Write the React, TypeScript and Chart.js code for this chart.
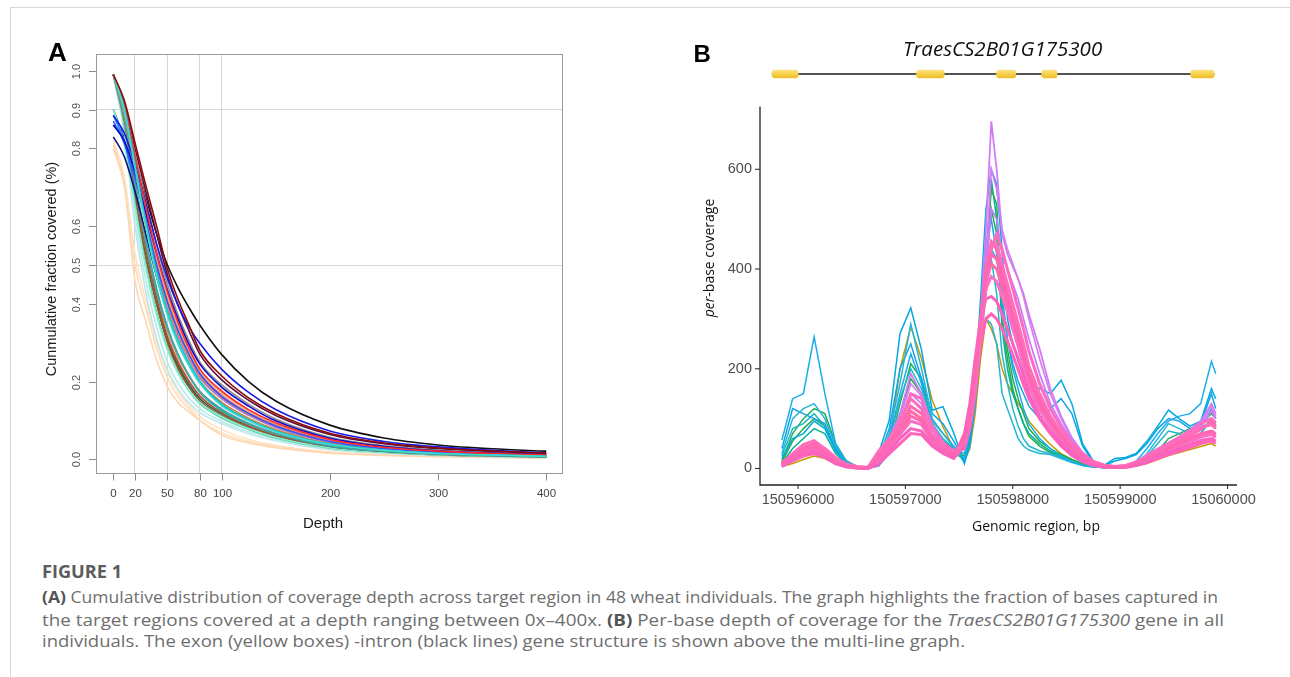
import React, { useEffect, useLayoutEffect, useRef } from 'react';
import { Chart, registerables } from 'chart.js';

Chart.register(...registerables);

// ---------------- Panel A: cumulative coverage curves ----------------
const depthA = [0, 10, 20, 30, 40, 50, 60, 70, 80, 100, 125, 150, 200, 250, 300, 350, 400];
const xTicksA = [0, 20, 50, 80, 100, 200, 300, 400];
const xGridA = [20, 50, 80, 100];
const yTicksA = [0, 0.2, 0.4, 0.5, 0.6, 0.8, 0.9, 1.0];
const yTickLabelsA = ['0.0', '0.2', '0.4', '0.5', '0.6', '0.8', '0.9', '1.0'];
const yGridA = [0.5, 0.9];

const curveDarkRed = [0.99, 0.925, 0.815, 0.705, 0.6, 0.49, 0.41, 0.345, 0.28, 0.215, 0.158, 0.118, 0.067, 0.042, 0.029, 0.021, 0.016];
const curveTurquoise = [0.99, 0.9, 0.75, 0.6, 0.47, 0.37, 0.295, 0.24, 0.195, 0.138, 0.099, 0.071, 0.038, 0.023, 0.015, 0.011, 0.008];
const curveDarkTurquoise = [0.99, 0.905, 0.76, 0.61, 0.48, 0.38, 0.305, 0.248, 0.2, 0.142, 0.101, 0.073, 0.039, 0.024, 0.015, 0.011, 0.008];
const curveRed = [0.99, 0.91, 0.78, 0.65, 0.53, 0.43, 0.35, 0.285, 0.232, 0.176, 0.128, 0.094, 0.051, 0.031, 0.021, 0.015, 0.011];
const curveBlue = [0.885, 0.84, 0.76, 0.66, 0.555, 0.465, 0.395, 0.34, 0.298, 0.232, 0.172, 0.128, 0.073, 0.046, 0.032, 0.023, 0.017];
const curveMediumBlue = [0.86, 0.82, 0.74, 0.635, 0.53, 0.435, 0.36, 0.295, 0.245, 0.186, 0.137, 0.099, 0.054, 0.033, 0.022, 0.016, 0.012];
const curveRoyalBlue = [0.87, 0.815, 0.725, 0.615, 0.5, 0.405, 0.33, 0.27, 0.22, 0.162, 0.118, 0.086, 0.046, 0.028, 0.018, 0.013, 0.009];
const curveSalmon = [0.99, 0.905, 0.77, 0.63, 0.505, 0.405, 0.33, 0.27, 0.22, 0.166, 0.12, 0.088, 0.047, 0.029, 0.019, 0.013, 0.009];
const curveCoral = [0.99, 0.9, 0.76, 0.62, 0.495, 0.395, 0.32, 0.262, 0.215, 0.16, 0.116, 0.085, 0.045, 0.027, 0.018, 0.012, 0.009];
const curveTan = [0.99, 0.905, 0.77, 0.635, 0.515, 0.415, 0.34, 0.28, 0.228, 0.172, 0.125, 0.091, 0.049, 0.03, 0.02, 0.014, 0.01];
const curveGrey = [0.99, 0.91, 0.785, 0.665, 0.55, 0.45, 0.37, 0.305, 0.25, 0.192, 0.142, 0.104, 0.057, 0.035, 0.024, 0.017, 0.012];
const curveMaroon = [0.99, 0.915, 0.8, 0.69, 0.58, 0.475, 0.395, 0.33, 0.27, 0.205, 0.152, 0.113, 0.064, 0.04, 0.027, 0.02, 0.015];
const curvePurple = [0.99, 0.9, 0.755, 0.61, 0.485, 0.39, 0.315, 0.258, 0.21, 0.156, 0.113, 0.082, 0.044, 0.027, 0.018, 0.012, 0.009];
const curvePeru = [0.99, 0.895, 0.745, 0.6, 0.475, 0.375, 0.3, 0.245, 0.2, 0.147, 0.106, 0.077, 0.041, 0.025, 0.016, 0.011, 0.008];
const curveNavy = [0.83, 0.78, 0.69, 0.58, 0.47, 0.375, 0.3, 0.245, 0.2, 0.142, 0.101, 0.073, 0.039, 0.024, 0.016, 0.011, 0.008];
const curveCadet = [0.99, 0.88, 0.71, 0.555, 0.43, 0.335, 0.265, 0.215, 0.175, 0.13, 0.093, 0.067, 0.036, 0.022, 0.014, 0.01, 0.007];
const curveSeaGreen = [0.99, 0.885, 0.72, 0.565, 0.44, 0.34, 0.268, 0.215, 0.172, 0.125, 0.09, 0.065, 0.034, 0.021, 0.014, 0.01, 0.007];
const curveSienna = [0.99, 0.875, 0.7, 0.54, 0.415, 0.315, 0.248, 0.2, 0.163, 0.12, 0.086, 0.062, 0.033, 0.02, 0.013, 0.009, 0.007];
const curveDodger = [0.885, 0.82, 0.7, 0.56, 0.435, 0.34, 0.268, 0.214, 0.174, 0.128, 0.091, 0.066, 0.034, 0.021, 0.014, 0.01, 0.007];
const curveAqua = [0.9, 0.81, 0.65, 0.49, 0.37, 0.28, 0.22, 0.178, 0.146, 0.11, 0.079, 0.057, 0.03, 0.018, 0.012, 0.008, 0.006];
const curveMedAqua = [0.99, 0.86, 0.66, 0.5, 0.38, 0.285, 0.222, 0.176, 0.143, 0.106, 0.077, 0.055, 0.029, 0.018, 0.012, 0.008, 0.006];
const curveBrown = [0.99, 0.87, 0.68, 0.52, 0.4, 0.3, 0.232, 0.185, 0.15, 0.112, 0.081, 0.058, 0.03, 0.019, 0.012, 0.009, 0.006];
const curveSandy = [0.99, 0.88, 0.71, 0.555, 0.43, 0.325, 0.255, 0.203, 0.163, 0.12, 0.086, 0.062, 0.032, 0.02, 0.013, 0.009, 0.007];
const curveSlate = [0.9, 0.82, 0.67, 0.52, 0.4, 0.305, 0.24, 0.192, 0.156, 0.117, 0.084, 0.06, 0.031, 0.019, 0.012, 0.009, 0.006];
const curvePaleTurq = [0.99, 0.85, 0.63, 0.46, 0.34, 0.25, 0.195, 0.157, 0.13, 0.098, 0.071, 0.052, 0.027, 0.017, 0.011, 0.008, 0.006];
const curvePowder = [0.99, 0.84, 0.6, 0.43, 0.31, 0.23, 0.18, 0.145, 0.12, 0.092, 0.066, 0.048, 0.025, 0.016, 0.01, 0.007, 0.005];
const curveBlack = [0.86, 0.83, 0.77, 0.675, 0.58, 0.5, 0.44, 0.39, 0.345, 0.27, 0.2, 0.15, 0.088, 0.055, 0.037, 0.027, 0.021];
const curvePeach = [0.81, 0.71, 0.46, 0.355, 0.255, 0.187, 0.145, 0.122, 0.1, 0.0625, 0.042, 0.03, 0.016, 0.01, 0.007, 0.005, 0.004];
const curveBisque = [0.82, 0.73, 0.53, 0.41, 0.3, 0.225, 0.172, 0.138, 0.11, 0.077, 0.051, 0.036, 0.019, 0.012, 0.008, 0.006, 0.004];
const curveLightPeach = [0.8, 0.705, 0.5, 0.39, 0.285, 0.21, 0.16, 0.13, 0.1, 0.068, 0.046, 0.033, 0.017, 0.011, 0.007, 0.005, 0.004];

const curvesA = [
  { name: 'S01', values: curveDarkRed, color: '#8b0a0a' },
  { name: 'S02', values: curveTurquoise, color: '#3fdccf' },
  { name: 'S03', values: curveDarkTurquoise, color: '#00cdd0' },
  { name: 'S04', values: curveRed, color: '#ff2a2a' },
  { name: 'S05', values: curveBlue, color: '#1a1ae6' },
  { name: 'S06', values: curveMediumBlue, color: '#0a0ad0' },
  { name: 'S07', values: curveRoyalBlue, color: '#2f55ff' },
  { name: 'S08', values: curveSalmon, color: '#f98070' },
  { name: 'S09', values: curveCoral, color: '#ff7a55' },
  { name: 'S10', values: curveTan, color: '#e3ad78' },
  { name: 'S11', values: curveGrey, color: '#8e8e8e' },
  { name: 'S12', values: curveMaroon, color: '#5c1238' },
  { name: 'S13', values: curvePurple, color: '#9a78dc' },
  { name: 'S14', values: curvePeru, color: '#cd853f' },
  { name: 'S15', values: curveNavy, color: '#101078' },
  { name: 'S16', values: curveCadet, color: '#5f9ea0' },
  { name: 'S17', values: curveSeaGreen, color: '#20b2aa' },
  { name: 'S18', values: curveSienna, color: '#a0522d' },
  { name: 'S19', values: curveDodger, color: '#1e8cff' },
  { name: 'S20', values: curveAqua, color: '#86f0d2' },
  { name: 'S21', values: curveMedAqua, color: '#66cdaa' },
  { name: 'S22', values: curveBrown, color: '#8b5a2b' },
  { name: 'S23', values: curveSandy, color: '#f4a460' },
  { name: 'S24', values: curveSlate, color: '#2f4f4f' },
  { name: 'S25', values: curvePaleTurq, color: '#b4ece8' },
  { name: 'S26', values: curvePowder, color: '#bfe6ea' },
  { name: 'S27', values: curveBlack, color: '#111111' },
  { name: 'S28', values: curvePeach, color: '#ffd6ae' },
  { name: 'S29', values: curveBisque, color: '#ffe2c2' },
  { name: 'S30', values: curveLightPeach, color: '#fcdcbc' },
];

// ---------------- Panel B: per-base coverage ----------------
const positionsB = [
  150595850, 150595950, 150596050, 150596150, 150596250, 150596350, 150596450, 150596550, 150596650, 150596750,
  150596850, 150596950, 150597050, 150597150, 150597250, 150597350, 150597450, 150597550, 150597600, 150597650,
  150597700, 150597750, 150597800, 150597850, 150597900, 150597950, 150598000, 150598050, 150598100, 150598150,
  150598250, 150598350, 150598450, 150598550, 150598650, 150598750, 150598850, 150598950, 150599050, 150599150,
  150599250, 150599350, 150599450, 150599550, 150599650, 150599750, 150599850, 150599890,
];
const xTicksB = [150596000, 150597000, 150598000, 150599000, 150600000];
const xTickLabelsB = ['150596000', '150597000', '150598000', '150599000', '15060000'];
const yTicksB = [0, 200, 400, 600];

const pink1 = [10, 25, 38, 44, 32, 15, 6, 2, 1, 20, 48, 75, 105, 95, 60, 40, 28, 60, 110, 190, 300, 390, 430, 420, 380, 340, 300, 265, 225, 185, 130, 95, 65, 40, 22, 10, 5, 3, 4, 10, 20, 30, 40, 50, 60, 70, 75, 70];
const pink2 = [6, 30, 48, 56, 40, 20, 8, 3, 2, 35, 60, 95, 140, 120, 70, 45, 30, 50, 95, 170, 280, 370, 445, 450, 410, 370, 330, 290, 250, 205, 150, 105, 72, 45, 25, 12, 6, 3, 5, 12, 24, 36, 48, 58, 70, 82, 88, 80];
const pink3 = [4, 18, 30, 34, 24, 10, 4, 1, 0, 8, 35, 60, 80, 75, 48, 32, 22, 70, 130, 220, 300, 340, 345, 335, 310, 280, 250, 220, 185, 150, 105, 75, 50, 30, 16, 7, 3, 2, 3, 8, 15, 24, 32, 40, 48, 56, 60, 55];
const pink4 = [12, 28, 42, 50, 36, 18, 7, 3, 2, 30, 55, 85, 125, 110, 66, 44, 32, 55, 100, 180, 290, 400, 455, 440, 395, 350, 310, 275, 235, 195, 140, 100, 70, 44, 24, 11, 5, 4, 5, 11, 22, 33, 45, 55, 66, 78, 95, 85];
const pink5 = [8, 22, 34, 40, 30, 13, 5, 2, 1, 15, 42, 68, 95, 88, 55, 36, 25, 65, 120, 200, 300, 360, 385, 375, 345, 315, 280, 245, 205, 165, 118, 85, 56, 34, 19, 9, 4, 3, 3, 9, 18, 27, 36, 45, 54, 63, 68, 62];
const pink6 = [5, 15, 25, 30, 22, 10, 3, 1, 0, 10, 30, 50, 70, 68, 45, 30, 20, 45, 90, 160, 250, 300, 310, 300, 280, 255, 228, 198, 168, 140, 100, 70, 45, 26, 14, 6, 3, 2, 2, 6, 12, 20, 28, 35, 42, 50, 55, 50];
const pink7 = [9, 26, 40, 50, 40, 22, 9, 4, 2, 25, 52, 88, 150, 140, 85, 52, 35, 40, 80, 150, 260, 360, 440, 470, 440, 400, 360, 320, 280, 235, 170, 120, 82, 52, 30, 14, 7, 4, 6, 13, 26, 38, 50, 62, 75, 90, 100, 92];
const pink8 = [7, 20, 33, 38, 28, 12, 5, 2, 1, 12, 45, 72, 115, 100, 62, 42, 30, 58, 105, 185, 290, 375, 410, 400, 365, 330, 295, 258, 218, 178, 125, 90, 60, 37, 20, 9, 4, 3, 4, 9, 19, 28, 38, 47, 57, 66, 72, 66];
const violet1 = [5, 20, 35, 48, 38, 20, 8, 3, 2, 30, 60, 110, 190, 150, 80, 50, 35, 45, 90, 170, 300, 480, 696, 600, 470, 430, 405, 380, 350, 310, 240, 160, 105, 62, 32, 14, 6, 4, 6, 14, 28, 40, 52, 64, 78, 95, 130, 110];
const violet2 = [3, 15, 28, 36, 28, 14, 6, 2, 1, 25, 50, 90, 150, 130, 70, 45, 30, 40, 85, 160, 280, 400, 520, 500, 430, 400, 370, 340, 300, 260, 190, 130, 90, 55, 28, 12, 5, 3, 5, 12, 25, 36, 48, 60, 72, 85, 115, 100];
const violet3 = [4, 18, 30, 40, 32, 16, 7, 3, 1, 28, 55, 100, 170, 145, 80, 50, 34, 38, 80, 150, 270, 420, 600, 560, 480, 440, 410, 380, 345, 300, 220, 150, 100, 60, 30, 13, 6, 3, 5, 13, 26, 38, 50, 62, 75, 90, 125, 105];
const cyan1 = [57, 140, 150, 264, 150, 50, 12, 3, 2, 5, 60, 150, 230, 170, 90, 60, 40, 30, 80, 170, 290, 390, 440, 420, 350, 260, 200, 160, 120, 90, 60, 40, 25, 14, 6, 3, 2, 2, 4, 15, 40, 70, 95, 105, 110, 130, 215, 190];
const cyan2 = [20, 60, 70, 95, 80, 35, 10, 3, 2, 30, 97, 271, 322, 238, 117, 124, 71, 10, 60, 180, 340, 520, 600, 570, 440, 300, 250, 215, 195, 175, 160, 150, 177, 130, 50, 15, 6, 20, 22, 30, 55, 85, 117, 100, 85, 95, 160, 140];
const cyan3 = [30, 100, 120, 130, 100, 45, 15, 4, 2, 15, 70, 170, 290, 200, 100, 70, 45, 20, 70, 150, 260, 300, 290, 250, 151, 120, 90, 60, 45, 37, 30, 28, 20, 12, 6, 3, 2, 2, 3, 10, 30, 60, 90, 80, 70, 80, 120, 100];
const cyan4 = [40, 120, 110, 100, 90, 40, 12, 4, 2, 20, 80, 200, 250, 180, 110, 90, 55, 15, 50, 140, 300, 450, 500, 430, 330, 260, 210, 175, 150, 125, 100, 120, 140, 110, 45, 12, 5, 15, 20, 28, 50, 80, 100, 95, 80, 90, 150, 120];
const cyan5 = [25, 80, 90, 110, 85, 38, 12, 3, 2, 10, 55, 140, 200, 160, 95, 70, 42, 12, 45, 130, 240, 360, 420, 350, 230, 170, 120, 85, 60, 45, 35, 30, 22, 14, 7, 3, 2, 2, 3, 10, 25, 50, 75, 70, 60, 70, 100, 90];
const green1 = [15, 70, 100, 120, 110, 50, 15, 4, 2, 10, 40, 130, 210, 180, 90, 55, 40, 25, 60, 150, 280, 420, 560, 530, 300, 240, 180, 140, 110, 80, 55, 40, 28, 18, 10, 5, 3, 2, 3, 8, 18, 35, 60, 70, 80, 90, 110, 100];
const green2 = [10, 40, 60, 80, 70, 30, 10, 3, 1, 5, 30, 90, 140, 120, 70, 45, 30, 20, 50, 130, 250, 380, 580, 500, 280, 200, 150, 120, 90, 70, 50, 35, 25, 15, 8, 4, 2, 2, 2, 6, 14, 26, 40, 50, 60, 70, 100, 80];
const green3 = [12, 55, 80, 100, 85, 40, 12, 4, 2, 8, 35, 110, 180, 150, 80, 50, 35, 18, 50, 140, 260, 400, 520, 470, 300, 220, 160, 120, 90, 65, 45, 32, 22, 14, 8, 4, 2, 2, 2, 6, 15, 30, 50, 60, 70, 80, 95, 85];
const olive1 = [4, 10, 18, 25, 20, 10, 4, 2, 1, 8, 50, 200, 284, 220, 137, 84, 40, 15, 40, 110, 220, 300, 280, 250, 200, 170, 150, 130, 115, 95, 70, 48, 30, 18, 8, 4, 2, 2, 2, 5, 10, 18, 26, 32, 38, 44, 50, 45];

const seriesB = [
  { name: 'ind01', values: pink1, color: '#ff66b2', width: 3 },
  { name: 'ind02', values: pink2, color: '#ff6ebc', width: 3 },
  { name: 'ind03', values: pink3, color: '#f962c0', width: 3 },
  { name: 'ind04', values: pink4, color: '#ff69ae', width: 3 },
  { name: 'ind05', values: pink5, color: '#fb70c4', width: 3 },
  { name: 'ind06', values: pink6, color: '#ff64b8', width: 3 },
  { name: 'ind07', values: pink7, color: '#fc6cc0', width: 3 },
  { name: 'ind08', values: pink8, color: '#ff6aa8', width: 3 },
  { name: 'ind09', values: violet1, color: '#d37af5', width: 1.8 },
  { name: 'ind10', values: violet2, color: '#c77cff', width: 1.8 },
  { name: 'ind11', values: violet3, color: '#d880f0', width: 1.8 },
  { name: 'ind12', values: cyan1, color: '#19aee8', width: 1.5 },
  { name: 'ind13', values: cyan2, color: '#00a9e0', width: 1.5 },
  { name: 'ind14', values: cyan3, color: '#25b5d8', width: 1.5 },
  { name: 'ind15', values: cyan4, color: '#10a4e6', width: 1.5 },
  { name: 'ind16', values: cyan5, color: '#1fb8c8', width: 1.5 },
  { name: 'ind17', values: green1, color: '#1daf52', width: 1.5 },
  { name: 'ind18', values: green2, color: '#00b39a', width: 1.5 },
  { name: 'ind19', values: green3, color: '#2aa84a', width: 1.5 },
  { name: 'ind20', values: olive1, color: '#c49a00', width: 1.5 },
];

const geneName = 'TraesCS2B01G175300';
const intronSpan = [150595756, 150599878];
const exonStarts = [150595756, 150597101, 150597846, 150598266, 150599654];
const exonEnds = [150596004, 150597364, 150598032, 150598415, 150599878];

// caption
const captionWidths = [80, 1176, 1182, 923];
const captionCenters = [573, 598, 621, 642.5];

const SANS = '"Liberation Sans", Arial, sans-serif';
const OPEN = '"Open Sans", "Liberation Sans", sans-serif';

const panelAPlugin = {
  id: 'panelAFrame',
  afterDraw(chart: any) {
    const { ctx, chartArea: a, scales } = chart;
    const x = scales.x;
    const y = scales.y;
    ctx.save();
    ctx.strokeStyle = '#9a9a9a';
    ctx.lineWidth = 1;
    ctx.strokeRect(Math.round(a.left) + 0.5, Math.round(a.top) + 0.5, Math.round(a.right - a.left) - 1, Math.round(a.bottom - a.top) - 1);
    ctx.strokeStyle = '#8a8a8a';
    ctx.fillStyle = '#444';
    ctx.font = '11.5px ' + SANS;
    ctx.textAlign = 'center';
    ctx.textBaseline = 'middle';
    xTicksA.forEach((v) => {
      const px = Math.round(x.getPixelForValue(v)) + 0.5;
      ctx.beginPath();
      ctx.moveTo(px, a.bottom);
      ctx.lineTo(px, a.bottom + 7);
      ctx.stroke();
      ctx.fillText(String(v), px, a.bottom + 20);
    });
    ctx.font = '11px ' + SANS;
    ctx.fillStyle = '#555';
    yTicksA.forEach((v, i) => {
      const py = Math.round(y.getPixelForValue(v)) + 0.5;
      ctx.beginPath();
      ctx.moveTo(a.left, py);
      ctx.lineTo(a.left - 7, py);
      ctx.stroke();
      ctx.save();
      ctx.translate(a.left - 19.5, py);
      ctx.rotate(-Math.PI / 2);
      ctx.fillText(yTickLabelsA[i], 0, 0);
      ctx.restore();
    });
    ctx.fillStyle = '#1a1a1a';
    ctx.font = '15px ' + SANS;
    ctx.fillText('Depth', a.left + 227, a.bottom + 50);
    ctx.save();
    ctx.translate(a.left - 44, a.top + 215);
    ctx.rotate(-Math.PI / 2);
    ctx.font = '14.5px ' + SANS;
    ctx.fillText('Cunmulative fraction covered (%)', 0, 0);
    ctx.restore();
    ctx.fillStyle = '#000';
    ctx.font = 'bold 26px ' + SANS;
    ctx.textAlign = 'left';
    ctx.textBaseline = 'alphabetic';
    ctx.fillText('A', a.left - 48, a.top + 7);
    ctx.restore();
  },
};

const panelBPlugin = {
  id: 'panelBFrame',
  afterDraw(chart: any) {
    const { ctx, chartArea: a, scales } = chart;
    const x = scales.x;
    const y = scales.y;
    ctx.save();
    ctx.strokeStyle = '#222';
    ctx.lineWidth = 1.3;
    ctx.beginPath();
    ctx.moveTo(a.left, a.top);
    ctx.lineTo(a.left, a.bottom);
    ctx.lineTo(a.right, a.bottom);
    ctx.stroke();
    ctx.strokeStyle = '#333';
    ctx.lineWidth = 1.1;
    ctx.fillStyle = '#4d4d4d';
    ctx.font = '14.5px ' + SANS;
    ctx.textBaseline = 'middle';
    ctx.textAlign = 'right';
    yTicksB.forEach((v) => {
      const py = y.getPixelForValue(v);
      ctx.beginPath();
      ctx.moveTo(a.left - 5, py);
      ctx.lineTo(a.left, py);
      ctx.stroke();
      ctx.fillText(String(v), a.left - 8, py);
    });
    const fullW = ctx.measureText('150600000').width;
    xTicksB.forEach((v, i) => {
      const px = x.getPixelForValue(v);
      ctx.beginPath();
      ctx.moveTo(px, a.bottom);
      ctx.lineTo(px, a.bottom + 4);
      ctx.stroke();
      const label = xTickLabelsB[i];
      if (label.length < 9) {
        ctx.textAlign = 'left';
        ctx.fillText(label, px - fullW / 2, a.bottom + 15);
      } else {
        ctx.textAlign = 'center';
        ctx.fillText(label, px, a.bottom + 15);
      }
    });
    ctx.fillStyle = '#111';
    ctx.textAlign = 'center';
    ctx.font = '14px ' + OPEN;
    ctx.fillText('Genomic region, bp', 396, a.bottom + 42);
    ctx.save();
    ctx.translate(70, 258);
    ctx.rotate(-Math.PI / 2);
    ctx.font = 'italic 14px ' + OPEN;
    const w1 = ctx.measureText('per').width;
    ctx.font = '14px ' + OPEN;
    const w2 = ctx.measureText('-base coverage').width;
    const start = -(w1 + w2) / 2;
    ctx.textAlign = 'left';
    ctx.font = 'italic 14px ' + OPEN;
    ctx.fillText('per', start, 0);
    ctx.font = '14px ' + OPEN;
    ctx.fillText('-base coverage', start + w1, 0);
    ctx.restore();
    const gy = 74;
    ctx.strokeStyle = '#1a1a1a';
    ctx.lineWidth = 1.3;
    ctx.beginPath();
    ctx.moveTo(x.getPixelForValue(intronSpan[0]), gy);
    ctx.lineTo(x.getPixelForValue(intronSpan[1]), gy);
    ctx.stroke();
    exonStarts.forEach((s, i) => {
      const x0 = x.getPixelForValue(s);
      const x1 = x.getPixelForValue(exonEnds[i]);
      const g = ctx.createLinearGradient(0, gy - 4.3, 0, gy + 4.3);
      g.addColorStop(0, '#fbe487');
      g.addColorStop(0.5, '#f6d04a');
      g.addColorStop(1, '#eebb2a');
      ctx.fillStyle = g;
      ctx.beginPath();
      if (ctx.roundRect) ctx.roundRect(x0, gy - 4.3, x1 - x0, 8.6, 3);
      else ctx.rect(x0, gy - 4.3, x1 - x0, 8.6);
      ctx.fill();
    });
    ctx.fillStyle = '#111';
    ctx.font = 'italic 20.5px ' + OPEN;
    ctx.textAlign = 'center';
    ctx.textBaseline = 'middle';
    ctx.fillText(geneName, 362.6, 50);
    ctx.fillStyle = '#000';
    ctx.font = 'bold 24px ' + SANS;
    ctx.textAlign = 'left';
    ctx.textBaseline = 'alphabetic';
    ctx.fillText('B', 53.6, 61.7);
    ctx.restore();
  },
};

function buildChartA(canvas: HTMLCanvasElement) {
  return new Chart(canvas, {
    type: 'line',
    data: {
      datasets: curvesA.map((c) => ({
        label: c.name,
        data: depthA.map((d, i) => ({ x: d, y: c.values[i] })),
        borderColor: c.color,
        borderWidth: 1.6,
        pointRadius: 0,
        fill: false,
        cubicInterpolationMode: 'monotone' as const,
      })),
    },
    options: {
      animation: false,
      responsive: false,
      devicePixelRatio: 1,
      layout: { padding: { left: 96, top: 54, right: 37, bottom: 66.5 } },
      plugins: { legend: { display: false }, tooltip: { enabled: false } },
      scales: {
        x: {
          type: 'linear',
          min: -16,
          max: 415.5,
          afterBuildTicks: (s: any) => {
            s.ticks = xTicksA.map((v) => ({ value: v }));
          },
          ticks: { display: false },
          grid: {
            drawTicks: false,
            lineWidth: 1,
            color: (ctx: any) => (ctx.tick && xGridA.includes(ctx.tick.value) ? '#d6d6d6' : 'rgba(0,0,0,0)'),
          },
          border: { display: false },
        },
        y: {
          type: 'linear',
          min: -0.0365,
          max: 1.043,
          afterBuildTicks: (s: any) => {
            s.ticks = yTicksA.map((v) => ({ value: v }));
          },
          ticks: { display: false },
          grid: {
            drawTicks: false,
            lineWidth: 1,
            color: (ctx: any) =>
              ctx.tick && yGridA.some((g) => Math.abs(g - ctx.tick.value) < 1e-6) ? '#d6d6d6' : 'rgba(0,0,0,0)',
          },
          border: { display: false },
        },
      },
    },
    plugins: [panelAPlugin],
  } as any);
}

function buildChartB(canvas: HTMLCanvasElement) {
  return new Chart(canvas, {
    type: 'line',
    data: {
      datasets: seriesB.map((s) => ({
        label: s.name,
        data: positionsB.map((p, i) => ({ x: p, y: s.values[i] })),
        borderColor: s.color,
        borderWidth: s.width,
        pointRadius: 0,
        fill: false,
        tension: 0,
      })),
    },
    options: {
      animation: false,
      responsive: false,
      devicePixelRatio: 1,
      layout: { padding: { left: 120, top: 106.5, right: 53, bottom: 55 } },
      plugins: { legend: { display: false }, tooltip: { enabled: false } },
      scales: {
        x: {
          type: 'linear',
          min: 150595646,
          max: 150600088,
          ticks: { display: false },
          grid: { display: false, drawTicks: false },
          border: { display: false },
        },
        y: {
          type: 'linear',
          min: -33.1,
          max: 725.9,
          ticks: { display: false },
          grid: { display: false, drawTicks: false },
          border: { display: false },
        },
      },
    },
    plugins: [panelBPlugin],
  } as any);
}

export default function App() {
  const refA = useRef<HTMLCanvasElement>(null);
  const refB = useRef<HTMLCanvasElement>(null);
  const capRefs = useRef<(HTMLDivElement | null)[]>([]);

  useEffect(() => {
    const a = buildChartA(refA.current!);
    const b = buildChartB(refB.current!);
    return () => {
      a.destroy();
      b.destroy();
    };
  }, []);

  useLayoutEffect(() => {
    const fit = () => {
      capRefs.current.forEach((el, i) => {
        if (!el) return;
        el.style.transform = 'none';
        const w = el.getBoundingClientRect().width;
        if (w > 0) el.style.transform = `scaleX(${captionWidths[i] / w})`;
      });
    };
    fit();
    const f = (document as any).fonts;
    if (f && f.ready) f.ready.then(fit);
  }, []);

  const lineStyle = (i: number, size: number, weight: number): React.CSSProperties => ({
    position: 'absolute',
    left: 41.7,
    top: captionCenters[i] - 11.5,
    height: 20,
    lineHeight: '20px',
    whiteSpace: 'nowrap',
    display: 'inline-block',
    transformOrigin: '0 0',
    fontFamily: OPEN,
    fontSize: size,
    fontWeight: weight,
    color: i === 0 ? '#5c5c5c' : '#6e6e6e',
  });

  return (
    <div style={{ position: 'absolute', left: 0, top: 0, width: 1290, height: 677, overflow: 'hidden', background: '#fff' }}>
      <div
        style={{
          position: 'absolute',
          left: 10,
          top: 7,
          width: 1300,
          height: 700,
          borderTop: '1px solid #d9d9d9',
          borderLeft: '1px solid #d9d9d9',
        }}
      />
      <canvas ref={refA} width={600} height={540} style={{ position: 'absolute', left: 0, top: 0 }} />
      <canvas ref={refB} width={650} height={540} style={{ position: 'absolute', left: 640, top: 0 }} />
      <div ref={(el) => { capRefs.current[0] = el; }} style={lineStyle(0, 17, 700)}>FIGURE 1</div>
      <div ref={(el) => { capRefs.current[1] = el; }} style={lineStyle(1, 15.5, 400)}>
        <b style={{ color: '#555' }}>(A)</b> Cumulative distribution of coverage depth across target region in 48 wheat individuals. The graph highlights the fraction of bases captured in
      </div>
      <div ref={(el) => { capRefs.current[2] = el; }} style={lineStyle(2, 15.5, 400)}>
        the target regions covered at a depth ranging between 0x–400x. <b style={{ color: '#555' }}>(B)</b> Per-base depth of coverage for the <i>TraesCS2B01G175300</i> gene in all
      </div>
      <div ref={(el) => { capRefs.current[3] = el; }} style={lineStyle(3, 15.5, 400)}>
        individuals. The exon (yellow boxes) -intron (black lines) gene structure is shown above the multi-line graph.
      </div>
    </div>
  );
}
